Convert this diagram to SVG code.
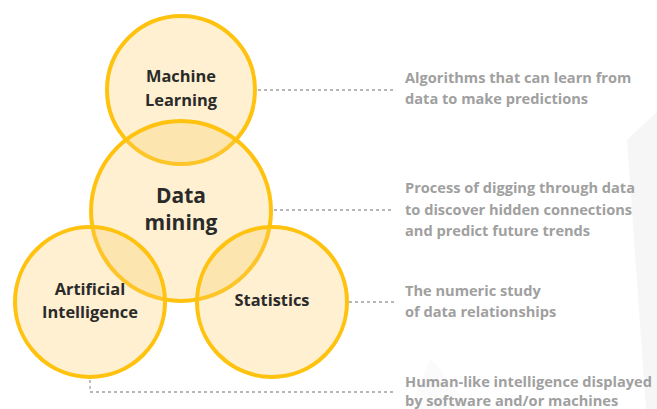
<svg xmlns="http://www.w3.org/2000/svg" width="657" height="409" viewBox="0 0 657 409">
<style>
.c{fill:#fccd62;fill-opacity:0.3;stroke:#fec20f;stroke-width:4}
.lb{font-family:"Open Sans","Liberation Sans",sans-serif;font-weight:700;fill:#2a2a2a;text-anchor:middle}
.ds{font-family:"Open Sans","Liberation Sans",sans-serif;font-weight:700;font-size:14.6px;fill:#a0a0a0}
.ln{fill:none;stroke:#a0a0a0;stroke-width:1.3;stroke-dasharray:3 3}
</style>
<rect width="657" height="409" fill="#ffffff"/>
<g id="background">
<polygon points="627,140 657,112 657,409 646,409" fill="#f6f6f7"/>
<polygon points="430,358 472,409 410,409" fill="#fbfbfb"/>
</g>
<g id="connectors">
<path class="ln" d="M258,90 H394"/>
<path class="ln" d="M274,210 H394"/>
<path class="ln" d="M349,302 H394"/>
<path class="ln" d="M90,380 V392 H394"/>
</g>
<g id="machine-learning">
<circle class="c" cx="181" cy="90" r="74"/>
<text class="lb" x="181" y="82" font-size="16.4">Machine</text>
<text class="lb" x="181" y="106" font-size="16.4">Learning</text>
</g>
<g id="data-mining">
<circle class="c" cx="181" cy="211" r="90"/>
<text class="lb" x="181" y="203" font-size="21">Data</text>
<text class="lb" x="181" y="230" font-size="21">mining</text>
</g>
<g id="artificial-intelligence">
<circle class="c" cx="90" cy="302" r="75"/>
<text class="lb" x="90" y="295" font-size="16.4">Artificial</text>
<text class="lb" x="90" y="318" font-size="16.4">Intelligence</text>
</g>
<g id="statistics">
<circle class="c" cx="272" cy="302" r="75"/>
<text class="lb" x="272" y="306" font-size="16.4">Statistics</text>
</g>
<g id="descriptions">
<text class="ds" x="405" y="83">Algorithms that can learn from</text>
<text class="ds" x="405" y="104">data to make predictions</text>
<text class="ds" x="405" y="193">Process of digging through data</text>
<text class="ds" x="405" y="215">to discover hidden connections</text>
<text class="ds" x="405" y="236">and predict future trends</text>
<text class="ds" x="405" y="296">The numeric study</text>
<text class="ds" x="405" y="317">of data relationships</text>
<text class="ds" x="405" y="387">Human-like intelligence displayed</text>
<text class="ds" x="405" y="406">by software and/or machines</text>
</g>
</svg>
